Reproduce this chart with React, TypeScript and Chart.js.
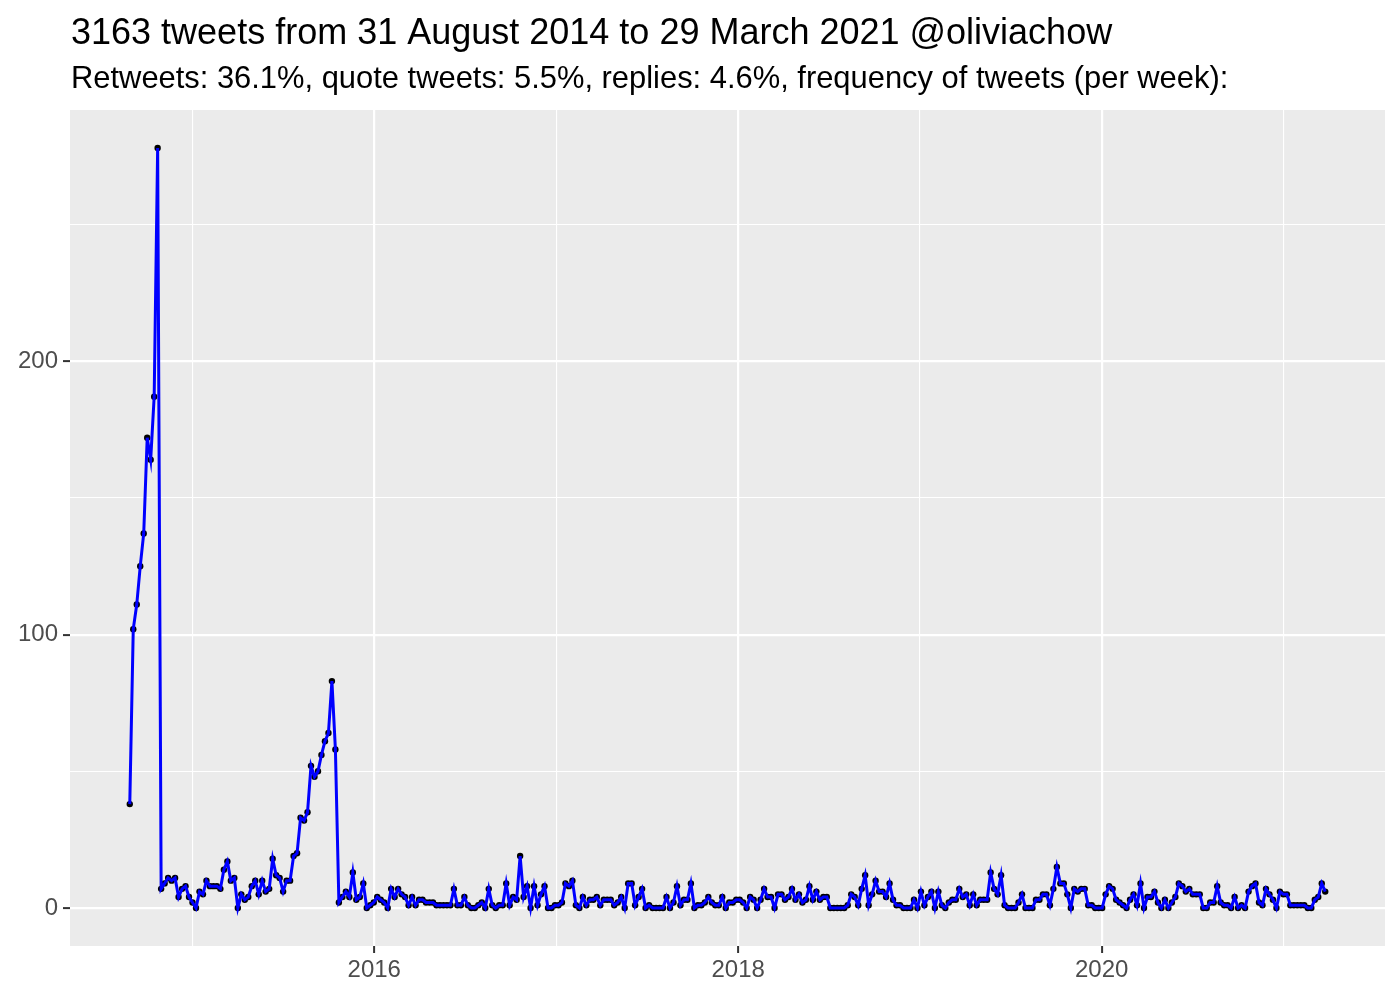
import React, { useEffect, useRef } from "react";
import { Chart, registerables } from "chart.js";

Chart.register(...registerables);

const TITLE = "3163 tweets from 31 August 2014 to 29 March 2021 @oliviachow";
const SUBTITLE =
  "Retweets: 36.1%, quote tweets: 5.5%, replies: 4.6%, frequency of tweets (per week):";

// first weekly bin (each point is one week later than the previous one)
const FIRST_WEEK = "2014-08-28";

// tweets per week
const tweetsPerWeek = [
  38, 102, 111, 125, 137, 172, 164, 187, 278, 7,
  9, 11, 10, 11, 4, 7, 8, 4, 2, 0,
  6, 5, 10, 8, 8, 8, 7, 14, 17, 10,
  11, 0, 5, 3, 4, 8, 10, 5, 10, 6,
  7, 18, 12, 11, 6, 10, 10, 19, 20, 33,
  32, 35, 52, 48, 50, 56, 61, 64, 83, 58,
  2, 4, 6, 4, 13, 3, 4, 9, 0, 1,
  2, 4, 3, 2, 0, 7, 4, 7, 5, 4,
  1, 4, 1, 3, 3, 2, 2, 2, 1, 1,
  1, 1, 1, 7, 1, 1, 4, 1, 0, 0,
  1, 2, 0, 7, 1, 0, 1, 1, 9, 1,
  4, 3, 19, 4, 8, 0, 8, 1, 5, 8,
  0, 0, 1, 1, 2, 9, 8, 10, 1, 0,
  4, 1, 3, 3, 4, 1, 3, 3, 3, 1,
  2, 4, 0, 9, 9, 1, 4, 7, 0, 1,
  0, 0, 0, 0, 4, 0, 2, 8, 1, 3,
  3, 9, 0, 1, 1, 2, 4, 2, 1, 1,
  4, 0, 2, 2, 3, 3, 2, 0, 4, 3,
  0, 3, 7, 4, 4, 0, 5, 5, 3, 4,
  7, 3, 5, 2, 3, 8, 3, 6, 3, 4,
  4, 0, 0, 0, 0, 0, 1, 5, 4, 1,
  7, 12, 1, 5, 10, 6, 6, 4, 9, 3,
  1, 1, 0, 0, 0, 3, 0, 6, 1, 4,
  6, 0, 6, 1, 0, 2, 3, 3, 7, 4,
  5, 1, 5, 1, 3, 3, 3, 13, 7, 5,
  12, 1, 0, 0, 0, 2, 5, 0, 0, 0,
  3, 3, 5, 5, 1, 7, 15, 9, 9, 5,
  0, 7, 6, 7, 7, 1, 1, 0, 0, 0,
  5, 8, 7, 3, 2, 1, 0, 3, 5, 1,
  9, 0, 4, 4, 6, 2, 0, 3, 0, 2,
  4, 9, 8, 6, 7, 5, 5, 5, 0, 0,
  2, 2, 8, 2, 1, 1, 0, 4, 0, 1,
  0, 6, 8, 9, 2, 1, 7, 5, 3, 0,
  6, 5, 5, 1, 1, 1, 1, 1, 0, 0,
  3, 4, 9, 6,
];

const xGridYears = [2015, 2016, 2017, 2018, 2019, 2020, 2021];
const xLabelYears = [2016, 2018, 2020];
const yGridValues = [0, 50, 100, 150, 200, 250];
const yLabelValues = [0, 100, 200];

const FONT = "'Liberation Sans', Arial, Helvetica, sans-serif";
const DAY_MS = 86400000;
const dayOf = (iso: string) => Date.parse(iso + "T00:00:00Z") / DAY_MS;
const yearDay = (y: number) => dayOf(`${y}-01-01`);

export default function App() {
  const canvasRef = useRef<HTMLCanvasElement | null>(null);

  useEffect(() => {
    document.body.style.margin = "0";
    const canvas = canvasRef.current;
    if (!canvas) return;

    const start = dayOf(FIRST_WEEK);
    const points = tweetsPerWeek.map((v, i) => ({ x: start + 7 * i, y: v }));
    const xFirst = points[0].x;
    const xLast = points[points.length - 1].x;
    const xPad = (xLast - xFirst) * 0.05;
    const yMax = Math.max(...tweetsPerWeek);
    const yMin = Math.min(...tweetsPerWeek);
    const yPad = (yMax - yMin) * 0.05;

    const majorX = xLabelYears.map(yearDay);

    const panelPlugin = {
      id: "panelPlugin",
      beforeDraw(chart: any) {
        const { ctx, chartArea: a } = chart;
        ctx.save();
        ctx.fillStyle = "#FFFFFF";
        ctx.fillRect(0, 0, chart.width, chart.height);
        ctx.fillStyle = "#EBEBEB";
        ctx.fillRect(a.left, a.top, a.right - a.left, a.bottom - a.top);
        ctx.restore();
      },
      afterDraw(chart: any) {
        const { ctx, chartArea: a } = chart;
        ctx.save();
        ctx.fillStyle = "#000000";
        ctx.textAlign = "left";
        ctx.textBaseline = "alphabetic";
        ctx.font = `36px ${FONT}`;
        ctx.fillText(TITLE, a.left + 1, 44);
        ctx.font = `30.9px ${FONT}`;
        ctx.fillText(SUBTITLE, a.left + 1, 88);
        ctx.restore();
      },
    };

    const chart = new Chart(canvas, {
      type: "line",
      data: {
        datasets: [
          {
            label: "line",
            data: points,
            borderColor: "#0000FF",
            borderWidth: 3,
            pointRadius: 0,
            fill: false,
            tension: 0,
            order: 0,
          },
          {
            label: "points",
            data: points,
            showLine: false,
            pointRadius: 3.2,
            pointBackgroundColor: "#000000",
            pointBorderWidth: 0,
            borderColor: "#000000",
            order: 1,
          },
        ],
      },
      options: {
        responsive: false,
        animation: false,
        devicePixelRatio: 1,
        layout: { padding: { top: 110, right: 15, bottom: 0, left: 0 } },
        plugins: {
          legend: { display: false },
          tooltip: { enabled: false },
          title: { display: false },
        },
        scales: {
          x: {
            type: "linear",
            min: xFirst - xPad,
            max: xLast + xPad,
            afterBuildTicks: (s: any) => {
              s.ticks = xGridYears.map((y) => ({ value: yearDay(y) }));
            },
            afterFit: (s: any) => {
              s.height = 54;
            },
            border: { display: false },
            grid: {
              color: "#FFFFFF",
              lineWidth: (c: any) =>
                c.tick && majorX.includes(c.tick.value) ? 2.2 : 1.1,
              tickColor: (c: any) =>
                c.tick && majorX.includes(c.tick.value) ? "#333333" : "rgba(0,0,0,0)",
              tickLength: 7,
              tickWidth: 2,
            },
            ticks: {
              autoSkip: false,
              maxRotation: 0,
              color: "#4D4D4D",
              font: { family: FONT, size: 24 },
              padding: 3,
              callback: (v: any) => {
                const yr = xLabelYears.find((y) => yearDay(y) === v);
                return yr === undefined ? "" : String(yr);
              },
            },
          },
          y: {
            type: "linear",
            min: yMin - yPad,
            max: yMax + yPad,
            afterBuildTicks: (s: any) => {
              s.ticks = yGridValues.map((v) => ({ value: v }));
            },
            afterFit: (s: any) => {
              s.width = 70;
            },
            border: { display: false },
            grid: {
              color: "#FFFFFF",
              lineWidth: (c: any) =>
                c.tick && yLabelValues.includes(c.tick.value) ? 2.2 : 1.1,
              tickColor: (c: any) =>
                c.tick && yLabelValues.includes(c.tick.value) ? "#333333" : "rgba(0,0,0,0)",
              tickLength: 7,
              tickWidth: 2,
            },
            ticks: {
              autoSkip: false,
              color: "#4D4D4D",
              font: { family: FONT, size: 24 },
              padding: 5,
              callback: (v: any) => (yLabelValues.includes(v) ? String(v) : ""),
            },
          },
        },
      },
      plugins: [panelPlugin],
    });

    return () => chart.destroy();
  }, []);

  return (
    <canvas
      ref={canvasRef}
      width={1400}
      height={1000}
      style={{ display: "block", width: 1400, height: 1000 }}
    />
  );
}
